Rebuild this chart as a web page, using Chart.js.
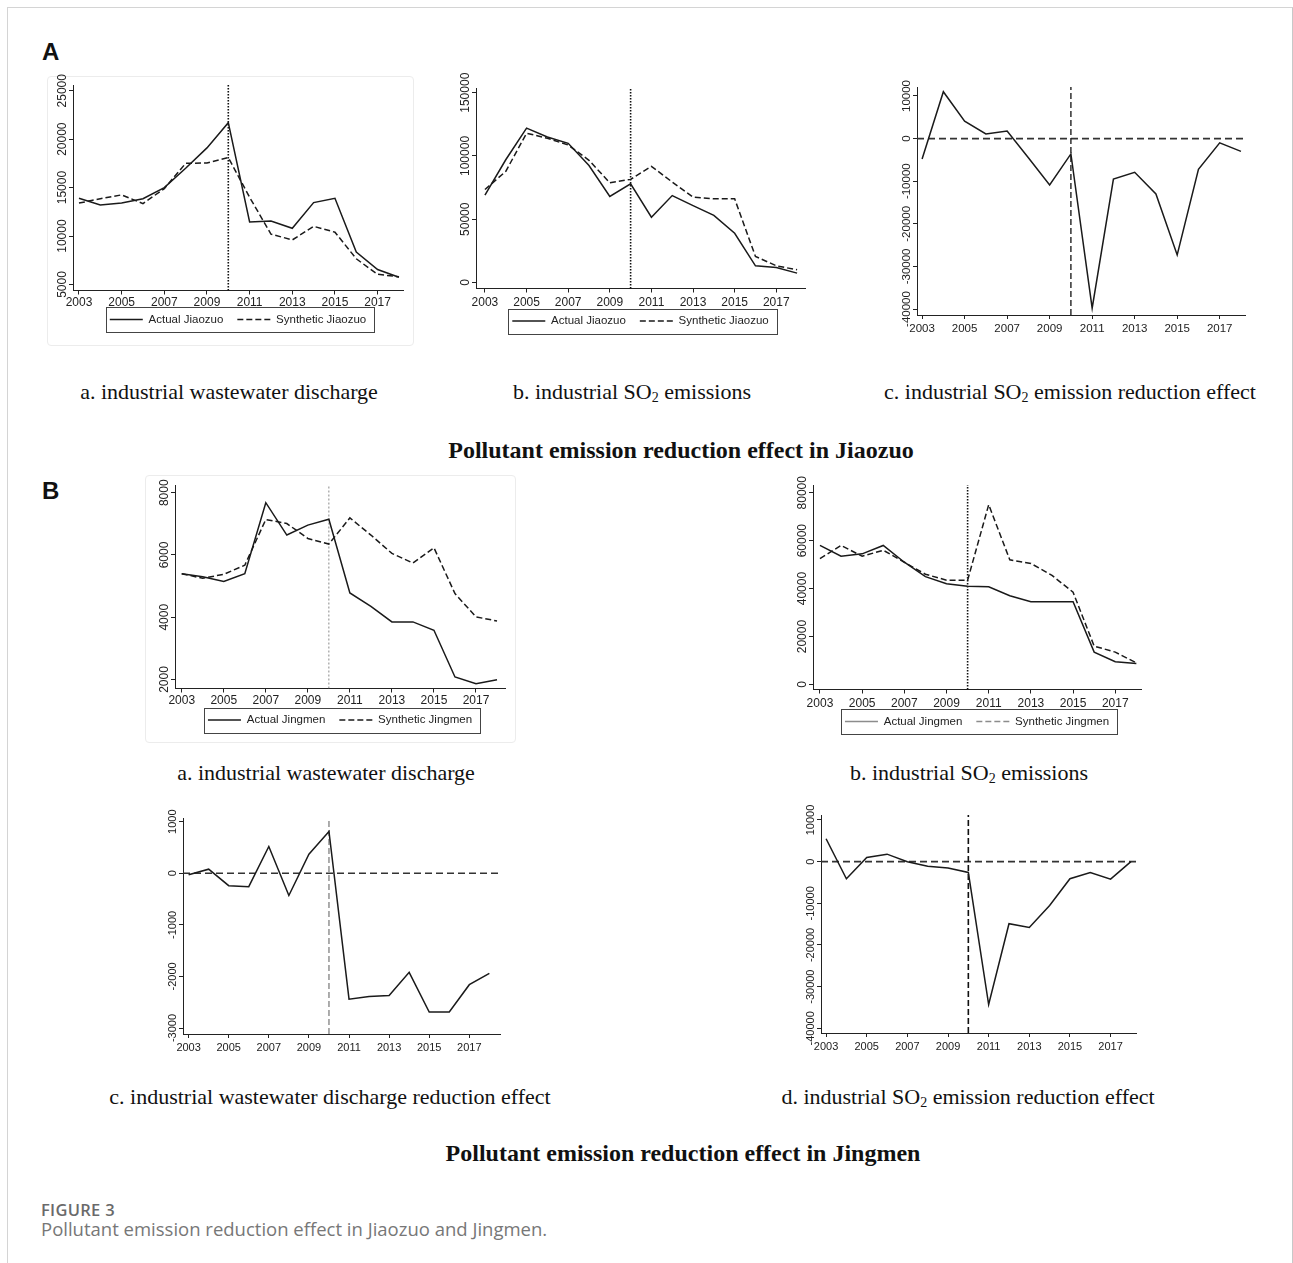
<!DOCTYPE html>
<html>
<head>
<meta charset="utf-8">
<script src="https://cdn.jsdelivr.net/npm/chart.js@4.4.0/dist/chart.umd.min.js"></script>
<style>
body{margin:0;background:#fff;width:1293px;height:1263px;position:relative;overflow:hidden}
.frame{position:absolute;left:7px;top:7px;width:1284px;height:1300px;border:1px solid #d4d4d4;border-right-color:#c8c8c8}
.panel{position:absolute;left:42px;font:bold 24px Arial,'Liberation Sans',sans-serif;line-height:24px;color:#111}
.cap{position:absolute;transform:translate(-50%,-50%);white-space:nowrap;font:22px 'Times New Roman','Liberation Serif',serif;color:#111}
.cap sub{font-size:14px;vertical-align:-3px;line-height:0}
.ttl{font-weight:bold;font-size:24px}
.box{position:absolute;border:1px solid #ececec;border-radius:4px}
canvas{position:absolute}
.fignum{position:absolute;left:41px;top:1198px;font:600 16.5px 'Open Sans',sans-serif;letter-spacing:0.3px;color:#6a6a6a}
.figtxt{position:absolute;left:41px;top:1216px;font:18.5px 'Open Sans',sans-serif;color:#777}
</style>
</head>
<body>
<div class="frame"></div>
<div class="box" style="left:47px;top:76px;width:365px;height:268px"></div>
<div class="box" style="left:145px;top:475px;width:369px;height:266px"></div>

<div class="panel" style="top:40px">A</div>
<div class="panel" style="top:479px">B</div>

<div class="cap" style="left:229px;top:392px">a. industrial wastewater discharge</div>
<div class="cap" style="left:632px;top:392px">b. industrial SO<sub>2</sub> emissions</div>
<div class="cap" style="left:1070px;top:392px">c. industrial SO<sub>2</sub> emission reduction effect</div>
<div class="cap ttl" style="left:681px;top:450px">Pollutant emission reduction effect in Jiaozuo</div>
<div class="cap" style="left:326px;top:773px">a. industrial wastewater discharge</div>
<div class="cap" style="left:969px;top:773px">b. industrial SO<sub>2</sub> emissions</div>
<div class="cap" style="left:330px;top:1097px">c. industrial wastewater discharge reduction effect</div>
<div class="cap" style="left:968px;top:1097px">d. industrial SO<sub>2</sub> emission reduction effect</div>
<div class="cap ttl" style="left:683px;top:1153px">Pollutant emission reduction effect in Jingmen</div>

<div class="fignum">FIGURE 3</div>
<div class="figtxt">Pollutant emission reduction effect in Jiaozuo and Jingmen.</div>

<script>
// data
const years = [2003, 2004, 2005, 2006, 2007, 2008, 2009, 2010, 2011, 2012, 2013, 2014, 2015, 2016, 2017, 2018];
const yearTicks = [2003, 2005, 2007, 2009, 2011, 2013, 2015, 2017];
const treatYear = 2010;

// Jiaozuo
const jzWaterActual = [13900, 13200, 13400, 13850, 15000, 17000, 19100, 21700, 11450, 11550, 10800, 13450, 13900, 8350, 6550, 5750];
const jzWaterSynth  = [13400, 13850, 14250, 13350, 14900, 17500, 17550, 18100, 14000, 10200, 9600, 11000, 10400, 7650, 6050, 5800];
const jzSO2Actual   = [69000, 97000, 122000, 115000, 110000, 92500, 68000, 78000, 51600, 68700, 60800, 53000, 38900, 13200, 11900, 7400];
const jzSO2Synth    = [73500, 87800, 118000, 114000, 108700, 96600, 78800, 81500, 91800, 79400, 67500, 66100, 66100, 20600, 13200, 10000];
const jzSO2Effect   = [-4800, 11000, 4100, 1100, 1800, -4500, -10900, -3600, -39800, -9500, -7900, -13000, -27300, -7200, -1000, -3000];

// Jingmen
const jmWaterActual = [5400, 5300, 5150, 5400, 7680, 6640, 6960, 7150, 4780, 4350, 3850, 3850, 3580, 2080, 1860, 1990];
const jmWaterSynth  = [5400, 5250, 5380, 5670, 7140, 7010, 6530, 6350, 7190, 6640, 6050, 5740, 6230, 4760, 4010, 3880];
const jmSO2Actual   = [58000, 53500, 54500, 58000, 51000, 45000, 42000, 41000, 40800, 37000, 34500, 34500, 34500, 13500, 9500, 8800];
const jmSO2Synth    = [52500, 58000, 53500, 56000, 51000, 46000, 43500, 43500, 75000, 52000, 50500, 45500, 38500, 16000, 13500, 9000];
const jmWaterEffect = [-30, 80, -240, -260, 520, -430, 370, 810, -2440, -2390, -2370, -1920, -2690, -2690, -2160, -1940];
const jmSO2Effect   = [5500, -4100, 1000, 1800, 0, -1100, -1500, -2600, -34300, -14900, -15800, -10500, -4100, -2600, -4200, 0];

// y tick labels
const ticksJzWater = [5000, 10000, 15000, 20000, 25000];
const ticksJzSO2 = [0, 50000, 100000, 150000];
const ticksJzEffect = [-40000, -30000, -20000, -10000, 0, 10000];
const ticksJmWater = [2000, 4000, 6000, 8000];
const ticksJmSO2 = [0, 20000, 40000, 60000, 80000];
const ticksJmWaterEffect = [-3000, -2000, -1000, 0, 1000];
const ticksJmSO2Effect = [-40000, -30000, -20000, -10000, 0, 10000];

const FAM = "Arial, 'Liberation Sans', sans-serif";
const PADL = 45, PADT = 25, PADR = 6;
const LEG_FS = 11.5, LEG_PAD = 14;
const INK = '#1a1a1a';

function widest(vals, size) {
  const c = document.createElement('canvas').getContext('2d');
  c.font = size + 'px ' + FAM;
  return Math.max(...vals.map(v => c.measureText(String(v)).width));
}

function pts(vals) {
  return years.map((x, i) => ({x: x, y: vals[i]}));
}

// box round the legend, like Stata does
const legendFrame = {
  id: 'legendFrame',
  afterDraw(chart) {
    const lg = chart.legend;
    if (!lg || !lg.options.display || !lg.legendHitBoxes || !lg.legendHitBoxes.length) return;
    const hb = lg.legendHitBoxes;
    const last = hb[hb.length - 1];
    const x0 = Math.round(hb[0].left - 4), x1 = Math.round(last.left + last.width + 8);
    const cy = hb[0].top + hb[0].height / 2;
    const ctx = chart.ctx;
    ctx.save();
    ctx.strokeStyle = '#444';
    ctx.lineWidth = 1;
    ctx.strokeRect(x0 + 0.5, Math.round(cy - 12.5) + 0.5, x1 - x0, 25);
    ctx.restore();
  }
};

// pull the legend up under the axis (labels padding is also the gap between items)
const legendShift = {
  id: 'legendShift',
  afterLayout(chart, args, opts) {
    const lg = chart.legend;
    if (!lg || !lg.options.display || opts.centerY == null) return;
    const top = opts.centerY - LEG_PAD - LEG_FS / 2;
    lg.top = top;
    lg.bottom = top + lg.height;
  }
};

function makeChart(spec) {
  const [l, t, r, b] = spec.area;
  const cv = document.createElement('canvas');
  const legendH = spec.legend ? LEG_FS + LEG_PAD + 10 : 0;
  const top = t - PADT;
  cv.width = (r - l) + PADL + PADR;
  cv.height = Math.round(PADT + (b - t) + spec.xh + legendH);
  cv.style.left = (l - PADL) + 'px';
  cv.style.top = top + 'px';
  document.body.appendChild(cv);

  const fs = spec.fs;
  const ywide = widest(spec.yTicks, fs);
  const nSeries = spec.series.length;

  const datasets = spec.series.map(s => ({
    label: s.label || '',
    data: pts(s.values),
    borderColor: INK,
    borderWidth: 1.5,
    borderDash: s.dash || [],
    pointRadius: 0,
    tension: 0,
    fill: false
  }));
  // reference line at treatment year
  datasets.push({
    label: 'treat',
    data: [{x: treatYear, y: spec.yr[0]}, {x: treatYear, y: spec.yr[1]}],
    borderColor: spec.vline.color,
    borderWidth: spec.vline.width,
    borderDash: spec.vline.dash,
    pointRadius: 0
  });
  if (spec.zero) {
    datasets.push({
      label: 'zero',
      data: [{x: spec.xr[0], y: 0}, {x: spec.xr[1], y: 0}],
      borderColor: '#333',
      borderWidth: 1.6,
      borderDash: [7, 4],
      pointRadius: 0
    });
  }

  const axisCommon = {
    grid: {drawOnChartArea: false, drawTicks: true, tickLength: 4, color: '#222'},
    border: {display: true, color: '#222', width: 1}
  };

  return new Chart(cv.getContext('2d'), {
    type: 'line',
    data: {datasets: datasets},
    options: {
      responsive: false,
      animation: false,
      devicePixelRatio: 1,
      layout: {padding: {top: PADT, right: PADR, left: 0, bottom: 0}},
      plugins: {
        tooltip: {enabled: false},
        legendShift: {centerY: spec.legendY != null ? spec.legendY - top : null},
        legend: {
          display: !!spec.legend,
          position: 'bottom',
          fullSize: false,
          labels: {
            usePointStyle: true,
            pointStyle: 'line',
            pointStyleWidth: 33,
            padding: LEG_PAD,
            color: '#222',
            font: {family: FAM, size: LEG_FS},
            filter: item => item.datasetIndex < nSeries,
            generateLabels: ch => {
              const items = Chart.defaults.plugins.legend.labels.generateLabels(ch);
              items.forEach(it => {
                const ds = ch.data.datasets[it.datasetIndex];
                it.lineDash = ds.borderDash;
                it.lineWidth = 1.3;
                it.strokeStyle = spec.legendColor || INK;
              });
              return items;
            }
          }
        }
      },
      scales: {
        x: Object.assign({}, axisCommon, {
          type: 'linear',
          min: spec.xr[0],
          max: spec.xr[1],
          afterBuildTicks: a => { a.ticks = yearTicks.map(v => ({value: v})); },
          afterFit: a => { a.height = spec.xh; },
          ticks: {autoSkip: false, minRotation: 0, maxRotation: 0, padding: spec.xpad, color: '#222',
                  font: {family: FAM, size: fs}, callback: v => String(v)}
        }),
        y: Object.assign({}, axisCommon, {
          type: 'linear',
          min: spec.yr[0],
          max: spec.yr[1],
          afterBuildTicks: a => { a.ticks = spec.yTicks.map(v => ({value: v})); },
          afterFit: a => { a.width = PADL; },
          ticks: {autoSkip: false, minRotation: 90, maxRotation: 90, crossAlign: 'center',
                  padding: 0.5 + fs / 2 - ywide / 2, color: '#222',
                  font: {family: FAM, size: fs}, callback: v => String(v)}
        })
      }
    },
    plugins: [legendShift, legendFrame]
  });
}

const dotted = {dash: [1.5, 1.5], width: 1.6, color: '#111'};
const dashedV = {dash: [6, 3], width: 1.4, color: '#222'};
const synthDash = [6, 3];

// A a: wastewater Jiaozuo
makeChart({
  area: [73, 85, 403, 290], xr: [2002.72, 2018.19], yr: [4380, 25590], yTicks: ticksJzWater,
  xh: 24, xpad: 1, fs: 12, legend: true, legendY: 319.5, vline: dotted,
  series: [{label: 'Actual Jiaozuo', values: jzWaterActual},
           {label: 'Synthetic Jiaozuo', values: jzWaterSynth, dash: synthDash}]
});
// A b: SO2 Jiaozuo
makeChart({
  area: [476, 88, 805, 288], xr: [2002.57, 2018.38], yr: [-4760, 153730], yTicks: ticksJzSO2,
  xh: 24, xpad: 3, fs: 12, legend: true, legendY: 321, vline: dotted,
  series: [{label: 'Actual Jiaozuo', values: jzSO2Actual},
           {label: 'Synthetic Jiaozuo', values: jzSO2Synth, dash: synthDash}]
});
// A c: SO2 effect Jiaozuo
makeChart({
  area: [917, 87, 1245, 315], xr: [2002.76, 2018.19], yr: [-41400, 12110], yTicks: ticksJzEffect,
  xh: 22, xpad: 3, fs: 11.5, legend: false, zero: true, vline: dashedV,
  series: [{values: jzSO2Effect}]
});
// B a: wastewater Jingmen
makeChart({
  area: [175, 485, 505, 688], xr: [2002.68, 2018.38], yr: [1710, 8248], yTicks: ticksJmWater,
  xh: 24, xpad: 1, fs: 12, legend: true, legendY: 720, vline: {dash: [2, 2], width: 1, color: '#8a8a8a'},
  series: [{label: 'Actual Jingmen', values: jmWaterActual},
           {label: 'Synthetic Jingmen', values: jmWaterSynth, dash: synthDash}]
});
// B b: SO2 Jingmen
makeChart({
  area: [813, 485, 1141, 689], xr: [2002.67, 2018.22], yr: [-2090, 83220], yTicks: ticksJmSO2,
  xh: 24, xpad: 3, fs: 12, legend: true, legendY: 721.5, legendColor: '#8c8c8c', vline: dotted,
  series: [{label: 'Actual Jingmen', values: jmSO2Actual},
           {label: 'Synthetic Jingmen', values: jmSO2Synth, dash: synthDash}]
});
// B c: wastewater effect Jingmen
makeChart({
  area: [183, 818, 500, 1034], xr: [2002.72, 2018.53], yr: [-3116, 1072], yTicks: ticksJmWaterEffect,
  xh: 22, xpad: 3, fs: 11, legend: false, zero: true, vline: {dash: [6, 3], width: 1.2, color: '#777'},
  series: [{values: jmWaterEffect}]
});
// B d: SO2 effect Jingmen
makeChart({
  area: [821, 815, 1136, 1033], xr: [2002.75, 2018.25], yr: [-41130, 11200], yTicks: ticksJmSO2Effect,
  xh: 22, xpad: 3, fs: 11, legend: false, zero: true, vline: {dash: [6, 3], width: 1.6, color: '#111'},
  series: [{values: jmSO2Effect}]
});
</script>
</body>
</html>
